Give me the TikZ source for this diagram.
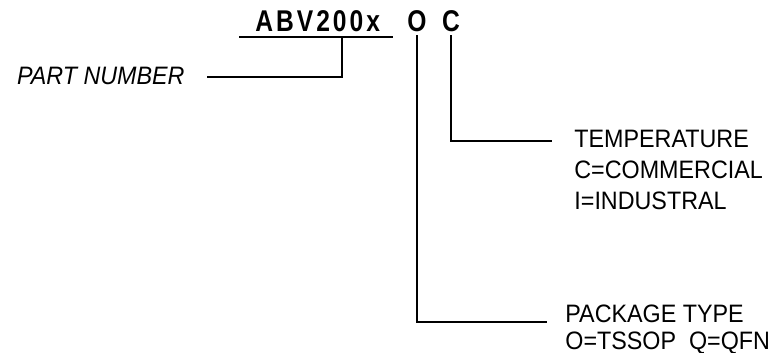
\documentclass[tikz,border=0pt]{standalone}
\usepackage{fontspec}
\setmainfont{Liberation Sans}
\newfontfamily\lblfont[FakeStretch=0.925]{Liberation Sans}
\newfontfamily\codefont[FakeStretch=0.82, LetterSpace=10]{Liberation Sans}
\usetikzlibrary{calc}
\tikzset{
  lead/.style={line width=1pt},
  txt/.style={inner sep=0pt, font=\lblfont\fontsize{12.6}{15.5}\selectfont},
  code/.style={inner sep=0pt, font=\codefont\fontsize{15}{16}\selectfont\bfseries}
}
\begin{document}
\begin{tikzpicture}[x=0.5pt, y=-0.5pt]
  \useasboundingbox (0,0) rectangle (776,353);

  % part code
  \node[code, anchor=base west] (pn) at (255,32) {ABV200x};
  \node[code, anchor=base, outer sep=1.5pt] (pkg) at (417,32) {O};
  \node[code, anchor=base, outer sep=1.5pt] (temp) at (451,32) {C};

  \coordinate (ulw) at (239,37);
  \coordinate (ule) at (393,37);
  \coordinate (tap) at (342,37);
  \draw[lead] (ulw) -- (ule);

  % part number
  \node[txt, anchor=base east] (pnlbl) at (185,85) {\itshape PART NUMBER};
  \coordinate (pnend) at (207,77);
  \draw[lead] (tap) |- (pnend);

  % temperature
  \node[txt, anchor=north west, align=left] (templbl) at (574,130)
    {TEMPERATURE\\C=COMMERCIAL\\I=INDUSTRAL};
  \coordinate (tempend) at (552,141);
  \draw[lead] (temp.south) |- (tempend);

  % package type
  \node[txt, anchor=north west, align=left, font=\lblfont\fontsize{12.6}{13.5}\selectfont] (pkglbl) at (565,305)
    {PACKAGE TYPE\\O=TSSOP\ \ Q=QFN};
  \coordinate (pkgend) at (547,322);
  \draw[lead] (pkg.south) |- (pkgend);
\end{tikzpicture}
\end{document}
